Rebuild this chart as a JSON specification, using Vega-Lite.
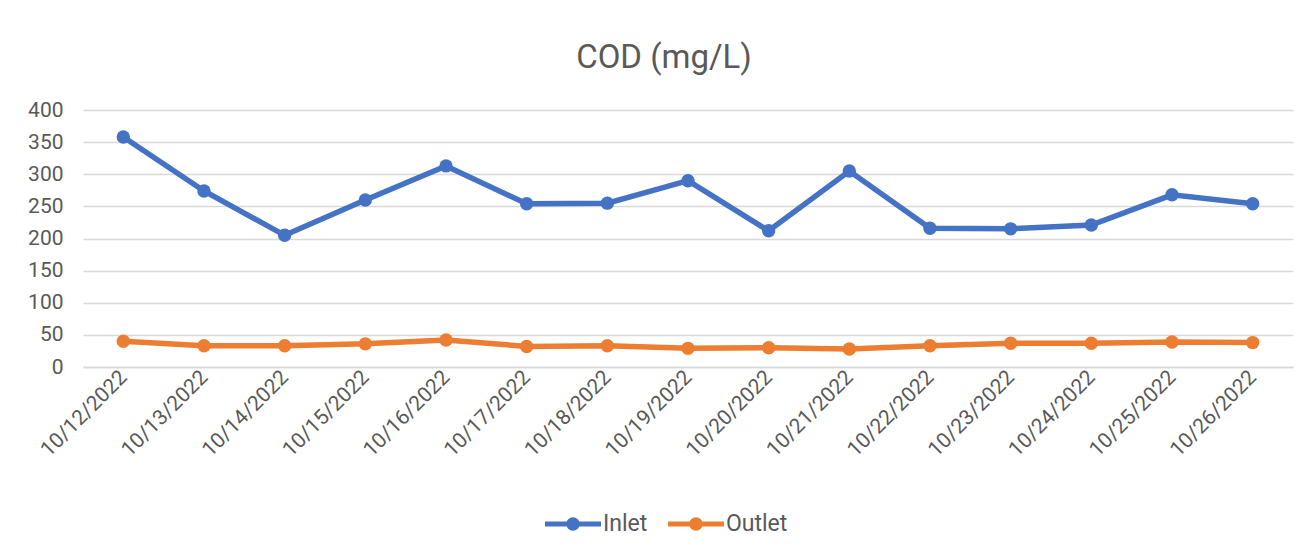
{
  "$schema": "https://vega.github.io/schema/vega-lite/v6.json",
  "autosize": "none",
  "width": 1210,
  "height": 257,
  "padding": {"left": 83, "top": 110, "right": 19, "bottom": 191},
  "background": "white",
  "title": {"text": "COD (mg/L)", "fontSize": 33, "font": "Roboto", "fontWeight": "normal", "color": "#595959", "offset": 24, "dx": -24, "anchor": "middle"},
  "data": {"values": [
    {"date": "10/12/2022", "series": "Inlet", "cod": 358},
    {"date": "10/13/2022", "series": "Inlet", "cod": 274},
    {"date": "10/14/2022", "series": "Inlet", "cod": 205},
    {"date": "10/15/2022", "series": "Inlet", "cod": 260},
    {"date": "10/16/2022", "series": "Inlet", "cod": 313},
    {"date": "10/17/2022", "series": "Inlet", "cod": 254},
    {"date": "10/18/2022", "series": "Inlet", "cod": 255},
    {"date": "10/19/2022", "series": "Inlet", "cod": 290},
    {"date": "10/20/2022", "series": "Inlet", "cod": 212},
    {"date": "10/21/2022", "series": "Inlet", "cod": 305},
    {"date": "10/22/2022", "series": "Inlet", "cod": 216},
    {"date": "10/23/2022", "series": "Inlet", "cod": 215},
    {"date": "10/24/2022", "series": "Inlet", "cod": 221},
    {"date": "10/25/2022", "series": "Inlet", "cod": 268},
    {"date": "10/26/2022", "series": "Inlet", "cod": 254},
    {"date": "10/12/2022", "series": "Outlet", "cod": 40},
    {"date": "10/13/2022", "series": "Outlet", "cod": 33},
    {"date": "10/14/2022", "series": "Outlet", "cod": 33},
    {"date": "10/15/2022", "series": "Outlet", "cod": 36},
    {"date": "10/16/2022", "series": "Outlet", "cod": 42},
    {"date": "10/17/2022", "series": "Outlet", "cod": 32},
    {"date": "10/18/2022", "series": "Outlet", "cod": 33},
    {"date": "10/19/2022", "series": "Outlet", "cod": 29},
    {"date": "10/20/2022", "series": "Outlet", "cod": 30},
    {"date": "10/21/2022", "series": "Outlet", "cod": 28},
    {"date": "10/22/2022", "series": "Outlet", "cod": 33},
    {"date": "10/23/2022", "series": "Outlet", "cod": 37},
    {"date": "10/24/2022", "series": "Outlet", "cod": 37},
    {"date": "10/25/2022", "series": "Outlet", "cod": 39},
    {"date": "10/26/2022", "series": "Outlet", "cod": 38}
  ]},
  "config": {
    "view": {"stroke": null},
    "font": "Roboto"
  },
  "encoding": {
    "x": {"field": "date", "type": "ordinal", "sort": null,
      "scale": {"type": "point", "padding": 0.5},
      "axis": {"title": null, "labelAngle": -45, "labelAlign": "right", "labelBaseline": "middle", "labelFontSize": 21, "labelColor": "#595959", "labelFont": "Roboto", "labelPadding": 7, "ticks": false, "domain": true, "domainColor": "#d9d9d9", "domainWidth": 1.5, "grid": false}},
    "y": {"field": "cod", "type": "quantitative",
      "scale": {"domain": [0, 400]},
      "axis": {"title": null, "values": [0, 50, 100, 150, 200, 250, 300, 350, 400], "labelFontSize": 21, "labelColor": "#595959", "labelFont": "Roboto", "labelPadding": 20, "ticks": false, "domain": false, "grid": true, "gridColor": "#d9d9d9", "gridWidth": 1.5}},
    "color": {"field": "series", "type": "nominal",
      "scale": {"domain": ["Inlet", "Outlet"], "range": ["#4472C4", "#ED7D31"]},
      "legend": {"title": null, "orient": "none", "direction": "horizontal", "legendX": 462, "legendY": 386,
        "labelFontSize": 23, "labelColor": "#595959", "labelFont": "Roboto", "labelOffset": 2, "columnPadding": 20,
        "symbolType": "M-1,-0.085L1,-0.085L1,0.085L-1,0.085Z M0.24,0A0.24,0.24,0,1,1,-0.24,0A0.24,0.24,0,1,1,0.24,0Z",
        "symbolSize": 3136, "symbolStrokeWidth": 0,
        "encode": {"symbols": {"update": {"fill": {"scale": "color", "field": "value"}, "fillOpacity": {"value": 1}, "strokeWidth": {"value": 0}}}}}}
  },
  "layer": [
    {"mark": {"type": "line", "strokeWidth": 5.5}},
    {"mark": {"type": "point", "filled": true, "size": 180, "opacity": 1}}
  ]
}
